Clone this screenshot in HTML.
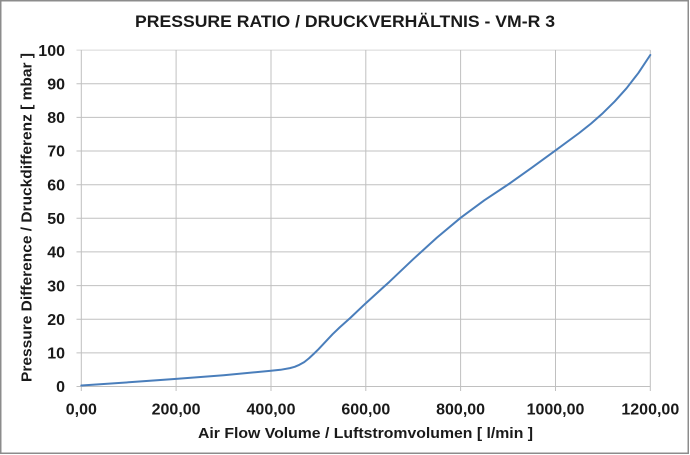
<!DOCTYPE html>
<html><head><meta charset="utf-8"><style>
html,body{margin:0;padding:0;background:#fff;}
svg{display:block;}
text{font-family:"Liberation Sans",Arial,sans-serif;font-weight:bold;fill:#1a1a1a;}
</style></head><body>
<svg width="690" height="455" viewBox="0 0 690 455" xmlns="http://www.w3.org/2000/svg">
<rect x="0.75" y="0.75" width="687.5" height="452.5" fill="#fff" stroke="#8c8c8c" stroke-width="1.5"/>
<text x="345" y="27" font-size="17" text-anchor="middle" textLength="420" lengthAdjust="spacingAndGlyphs">PRESSURE RATIO / DRUCKVERHÄLTNIS - VM-R 3</text>
<g stroke="#c0c0c0" stroke-width="1" fill="none">
<line x1="76.5" y1="50.1" x2="650.3" y2="50.1" stroke="#d6d6d6"/>
<line x1="76.5" y1="83.7" x2="650.3" y2="83.7"/>
<line x1="76.5" y1="117.4" x2="650.3" y2="117.4"/>
<line x1="76.5" y1="151.0" x2="650.3" y2="151.0"/>
<line x1="76.5" y1="184.7" x2="650.3" y2="184.7"/>
<line x1="76.5" y1="218.3" x2="650.3" y2="218.3"/>
<line x1="76.5" y1="251.9" x2="650.3" y2="251.9"/>
<line x1="76.5" y1="285.6" x2="650.3" y2="285.6"/>
<line x1="76.5" y1="319.2" x2="650.3" y2="319.2"/>
<line x1="76.5" y1="352.9" x2="650.3" y2="352.9"/>
<line x1="76.5" y1="386.5" x2="650.3" y2="386.5"/>
<line x1="81.3" y1="50" x2="81.3" y2="391"/>
<line x1="176.1" y1="50" x2="176.1" y2="391"/>
<line x1="271.0" y1="50" x2="271.0" y2="391"/>
<line x1="365.8" y1="50" x2="365.8" y2="391"/>
<line x1="460.6" y1="50" x2="460.6" y2="391"/>
<line x1="555.5" y1="50" x2="555.5" y2="391"/>
<line x1="650.3" y1="50" x2="650.3" y2="391"/>
</g>
<g font-size="16" text-anchor="end">
<text x="65" y="55.8">100</text>
<text x="65" y="89.4">90</text>
<text x="65" y="123.1">80</text>
<text x="65" y="156.7">70</text>
<text x="65" y="190.4">60</text>
<text x="65" y="224">50</text>
<text x="65" y="257.6">40</text>
<text x="65" y="291.3">30</text>
<text x="65" y="324.9">20</text>
<text x="65" y="358.6">10</text>
<text x="65" y="392.2">0</text>
</g>
<g font-size="16" text-anchor="middle">
<text x="81.3" y="414.5">0,00</text>
<text x="176.1" y="414.5">200,00</text>
<text x="271.0" y="414.5">400,00</text>
<text x="365.8" y="414.5">600,00</text>
<text x="460.6" y="414.5">800,00</text>
<text x="555.5" y="414.5">1000,00</text>
<text x="650.3" y="414.5">1200,00</text>
</g>
<text x="365.5" y="438" font-size="15" text-anchor="middle" textLength="335" lengthAdjust="spacingAndGlyphs">Air Flow Volume / Luftstromvolumen [ l/min ]</text>
<text transform="translate(31.5,217.5) rotate(-90)" x="0" y="0" font-size="15" text-anchor="middle" textLength="329" lengthAdjust="spacingAndGlyphs">Pressure Difference / Druckdifferenz [ mbar ]</text>
<polyline fill="none" stroke="#4a7ebb" stroke-width="2" stroke-linejoin="round" stroke-linecap="round" points="81.3,385.5 128.7,382.3 176.1,378.9 223.6,375.2 271.0,370.8 280.5,369.8 289.9,368.1 294.7,366.8 299.4,364.8 304.2,362.1 308.9,358.4 313.6,354.0 318.4,349.3 323.1,344.3 327.9,339.2 332.6,334.2 339.7,327.4 350.2,318.0 365.8,303.2 389.5,281.7 413.2,259.2 436.9,237.6 460.6,217.8 484.3,200.3 508.1,184.5 531.8,167.7 555.5,150.4 579.2,133.0 591.0,123.6 602.9,113.1 614.7,101.4 626.6,88.2 638.5,72.8 650.3,55.0"/>
</svg>
</body></html>
